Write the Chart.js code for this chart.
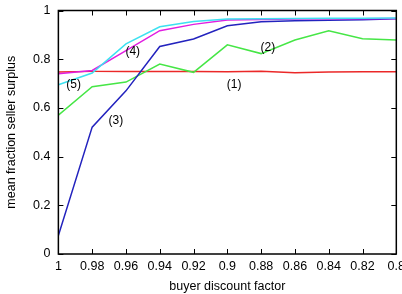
<!DOCTYPE html>
<html>
<head>
<meta charset="utf-8">
<script src="https://cdn.jsdelivr.net/npm/chart.js@4.4.0/dist/chart.umd.min.js"></script>
<style>
    html, body { margin: 0; padding: 0; background: #fff; overflow: hidden; }
    #wrap { width: 402px; height: 294px; overflow: hidden; }
    #box { width: 410px; height: 299px; margin-top: -5px; }
</style>
</head>
<body>
<div id="wrap"><div id="box"><canvas id="surplusChart"></canvas></div></div>
<script>
// buyer discount factor (x)
const discountFactors = [1, 0.98, 0.96, 0.94, 0.92, 0.9, 0.88, 0.86, 0.84, 0.82, 0.8];
const yTicks = [0, 0.2, 0.4, 0.6, 0.8, 1];

const series1 = [0.747, 0.75, 0.75, 0.75, 0.749, 0.748, 0.75, 0.744, 0.747, 0.748, 0.748];
const series2 = [0.57, 0.687, 0.706, 0.78, 0.746, 0.859, 0.823, 0.879, 0.917, 0.884, 0.879];
const series3 = [0.076, 0.521, 0.67, 0.852, 0.883, 0.937, 0.954, 0.958, 0.96, 0.962, 0.966];
const series4 = [0.74, 0.754, 0.835, 0.917, 0.943, 0.961, 0.963, 0.965, 0.966, 0.966, 0.967];
const series5 = [0.695, 0.743, 0.863, 0.933, 0.955, 0.965, 0.966, 0.967, 0.968, 0.968, 0.969];

// curve labels placed in data coordinates
const curveLabels = [
    { text: '(1)', x: 0.896, y: 0.697 },
    { text: '(2)', x: 0.876, y: 0.848 },
    { text: '(3)', x: 0.966, y: 0.546 },
    { text: '(4)', x: 0.956, y: 0.831 },
    { text: '(5)', x: 0.991, y: 0.697 }
];

const FONT = '"Liberation Sans", Arial, Helvetica, sans-serif';

function toPoints(values) {
    return values.map((v, i) => ({ x: discountFactors[i], y: v }));
}

// gnuplot style frame with inward ticks on all four sides, plus curve labels
const framePlugin = {
    id: 'frame',
    afterDatasetsDraw(chart) {
        const ctx = chart.ctx;
        const a = chart.chartArea;
        const xs = chart.scales.x;
        const ys = chart.scales.y;
        const len = 5;
        ctx.save();
        ctx.strokeStyle = '#000';
        ctx.lineWidth = 1;
        ctx.beginPath();
        discountFactors.forEach(v => {
            const px = Math.round(xs.getPixelForValue(v)) + 0.5;
            ctx.moveTo(px, a.bottom); ctx.lineTo(px, a.bottom - len);
            ctx.moveTo(px, a.top); ctx.lineTo(px, a.top + len);
        });
        yTicks.forEach(v => {
            const py = Math.round(ys.getPixelForValue(v)) + 0.5;
            ctx.moveTo(a.left, py); ctx.lineTo(a.left + len, py);
            ctx.moveTo(a.right, py); ctx.lineTo(a.right - len, py);
        });
        ctx.stroke();
        ctx.lineWidth = 1.5;
        ctx.strokeRect(a.left, a.top, a.right - a.left, a.bottom - a.top);

        ctx.fillStyle = '#000';
        ctx.font = '12px ' + FONT;
        ctx.textAlign = 'center';
        ctx.textBaseline = 'middle';
        curveLabels.forEach(l => {
            ctx.fillText(l.text, xs.getPixelForValue(l.x), ys.getPixelForValue(l.y));
        });
        ctx.restore();
    }
};

const ctx = document.getElementById('surplusChart').getContext('2d');
new Chart(ctx, {
    type: 'line',
    data: {
        datasets: [
            { label: '(1)', data: toPoints(series1), borderColor: 'rgb(235, 40, 40)', order: 5 },
            { label: '(2)', data: toPoints(series2), borderColor: 'rgb(70, 230, 70)', order: 4 },
            { label: '(3)', data: toPoints(series3), borderColor: 'rgb(35, 35, 190)', order: 3 },
            { label: '(4)', data: toPoints(series4), borderColor: 'rgb(225, 30, 225)', order: 2 },
            { label: '(5)', data: toPoints(series5), borderColor: 'rgb(60, 225, 240)', order: 1 }
        ]
    },
    options: {
        responsive: true,
        maintainAspectRatio: false,
        animation: false,
        datasets: {
            line: { borderWidth: 1.5, pointRadius: 0, tension: 0, fill: false }
        },
        layout: { padding: { top: -2, right: 0, bottom: 0, left: 4 } },
        plugins: {
            legend: { display: false },
            tooltip: { enabled: false }
        },
        scales: {
            x: {
                type: 'linear',
                reverse: true,
                min: 0.8,
                max: 1,
                grid: { display: false, drawTicks: false },
                border: { display: false },
                afterBuildTicks: axis => { axis.ticks = discountFactors.map(v => ({ value: v })); },
                ticks: {
                    color: '#000',
                    padding: 5,
                    maxRotation: 0,
                    autoSkip: false,
                    font: { family: FONT, size: 12.5 },
                    callback: v => String(Number(v.toFixed(2)))
                },
                title: {
                    display: true,
                    text: 'buyer discount factor',
                    color: '#000',
                    padding: { top: 0, bottom: 0 },
                    font: { family: FONT, size: 12.5 }
                }
            },
            y: {
                min: 0,
                max: 1,
                grid: { display: false, drawTicks: false },
                border: { display: false },
                afterBuildTicks: axis => { axis.ticks = yTicks.map(v => ({ value: v })); },
                ticks: {
                    color: '#000',
                    padding: 8,
                    font: { family: FONT, size: 12.5 },
                    callback: v => String(Number(v.toFixed(1)))
                },
                title: {
                    display: true,
                    text: 'mean fraction seller surplus',
                    color: '#000',
                    padding: { top: 0, bottom: 6 },
                    font: { family: FONT, size: 12.5 }
                }
            }
        }
    },
    plugins: [framePlugin]
});
</script>
</body>
</html>
